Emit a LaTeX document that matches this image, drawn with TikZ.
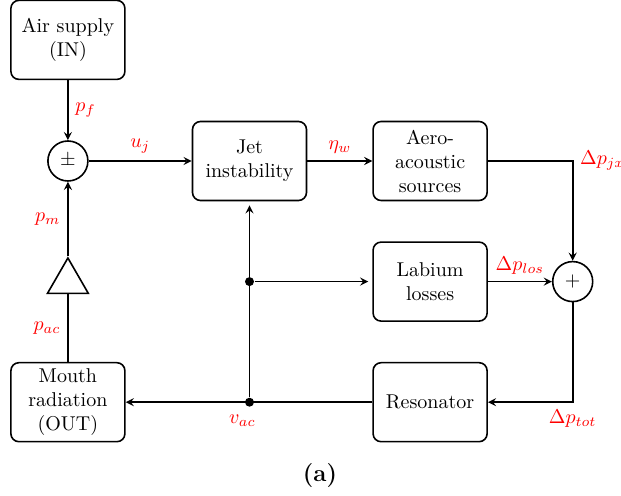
\documentclass[tikz,border=0pt]{standalone}
\usepackage{amsmath}
\usetikzlibrary{arrows,shapes,positioning,calc}
\begin{document}
\begin{tikzpicture}
[>=stealth,thick%
,block/.style={draw,rounded corners,align=center,%
               minimum width=57pt,minimum height=39.5pt,inner sep=2pt}%
,sumnode/.style={draw,circle,minimum size=20pt,inner sep=0pt}%
,amp/.style={draw,regular polygon,regular polygon sides=3,%
             minimum size=23.6pt,inner sep=0pt}%
,dot/.style={fill,circle,inner sep=0pt,minimum size=4.5pt}%
,lbl/.style={text=red}]
\useasboundingbox (-124.75pt,80.5pt) rectangle (185.75pt,-167.5pt);
% top row
\node[block] (jet) {Jet\\instability};
\node[block,right=32.5pt of jet] (aero) {Aero-\\acoustic\\sources};
\node[sumnode,left=51.5pt of jet] (pm) {$\pm$};
\node[block,above=30pt of pm] (air) {Air supply\\(IN)};
% lower rows
\node[block,below=20pt of aero] (labium) {Labium\\losses};
\node[block,below=20pt of labium] (reson) {Resonator};
\node[sumnode,right=32pt of labium] (sum) {$+$};
\node[amp] (gain) at (pm |- labium) {};
\node[block] (mouth) at (pm |- reson) {Mouth\\radiation\\(OUT)};
\node[dot] (split1) at (jet |- labium) {};
\node[dot,label={[lbl,xshift=-3.5pt]below:$v_{ac}$}] (split2) at (jet |- reson) {};
% connectors
\draw[->] (air) -- node[lbl,right]{$p_f$} (pm);
\draw[->] (pm) -- node[lbl,above]{$u_j$} (jet);
\draw[->] (jet) -- node[lbl,above]{$\eta_w$} (aero);
\draw[->] (aero) -| node[lbl,right,pos=0.5]{$\Delta p_{jx}$} (sum);
\draw[->] (labium) -- node[lbl,above]{$\Delta p_{los}$} (sum);
\draw[->] (sum) |- node[lbl,below,pos=0.5]{$\Delta p_{tot}$} (reson);
\draw[->] (reson) -- (mouth);
\draw (reson) -- (split2);
\draw[->,shorten >=2pt] (split2) -- (jet);
\draw[->,shorten >=2pt] (split1) -- (labium);
\draw (mouth) -- node[lbl,left]{$p_{ac}$} (gain);
\draw[->] (gain) -- node[lbl,left]{$p_m$} (pm);
% caption
\node[font=\large\bfseries] (cap) at (35.25pt,-157.5pt) {(a)};
\end{tikzpicture}
\end{document}
